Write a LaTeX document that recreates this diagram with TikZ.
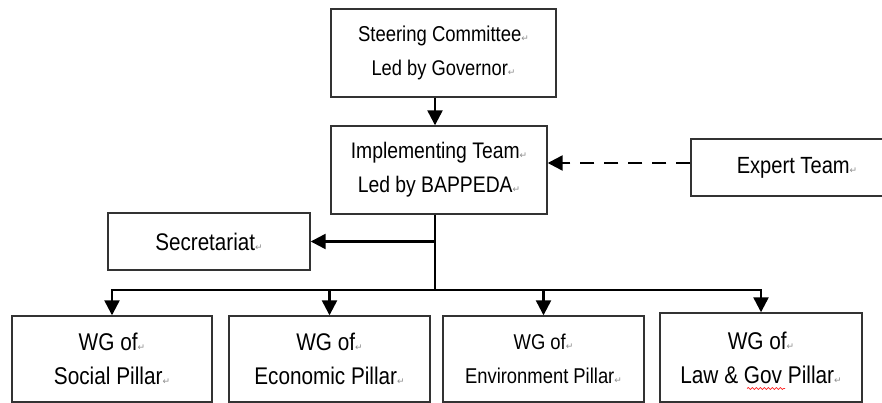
\documentclass[tikz,border=0pt]{standalone}
\usepackage{fontspec}
\setmainfont{Liberation Sans}[FakeStretch=0.86]
\newfontfamily\dejavu{DejaVu Sans}
\usetikzlibrary{arrows.meta,decorations.pathmorphing}
\newcommand{\retmark}{{\dejavu\fontsize{9}{9}\selectfont\color{black!45}↵}}
\tikzset{
  box/.style={draw=black!80, line width=1.4pt, rectangle, inner sep=0pt, align=center, text=black},
  conn/.style={draw=black, line width=2.4pt},
  arr/.style={conn, -{Triangle[length=15pt,width=15pt]}, shorten >=0pt},
  dasharr/.style={arr, dash pattern=on 14pt off 10pt},
  fs/.style={font=\fontsize{#1}{34}\selectfont}
}
\begin{document}
\begin{tikzpicture}[x=1pt,y=-1pt]
\useasboundingbox (0,0) rectangle (882,403);
\clip (0,0) rectangle (882,403);
\node[box, fs=21.5, minimum width=225pt, minimum height=88pt] (steer) at (443.5,53) {\fontsize{21.5}{34}\selectfont Steering Committee\retmark\\\fontsize{21.3}{34}\selectfont Led by Governor\retmark};
\node[box, fs=22.7, minimum width=216pt, minimum height=88pt] (impl) at (439,170) {\fontsize{22.5}{34}\selectfont Implementing Team\retmark\\\fontsize{22.5}{34}\selectfont Led by BAPPEDA\retmark};
\node[box, fs=23.4, minimum width=212pt, minimum height=57pt] (expert) at (797,167.5) {Expert Team\retmark};
\node[box, fs=24, minimum width=202pt, minimum height=57pt] (secr) at (209,241.5) {Secretariat\retmark};
\node[box, fs=24.2, minimum width=200pt, minimum height=86pt] (social) at (112,359) {WG of\retmark\\Social Pillar\retmark};
\node[box, fs=24.1, minimum width=201pt, minimum height=86pt] (econ) at (329.5,359) {WG of\retmark\\Economic Pillar\retmark};
\node[box, fs=21.4, minimum width=201pt, minimum height=86pt] (env) at (543.5,359) {WG of\retmark\\Environment Pillar\retmark};
\node[box, fs=24.2, minimum width=202pt, minimum height=89pt] (law) at (761,357.5) {WG of\retmark\\Law \& Gov Pillar\retmark};
\coordinate (trunk) at (435,290);
% connectors
\draw[arr] (steer.south -| trunk) -- (impl.north -| trunk);
\draw[dasharr] (expert.west |- 0,163) -- (impl.east |- 0,163);
\draw[conn] (impl.south -| trunk) -- (trunk);
\draw[arr] (trunk |- secr.east) -- (secr.east);
\draw[conn] ([xshift=-1.2pt]social.north |- trunk) -- ([xshift=1.2pt]law.north |- trunk);
\draw[arr] (social.north |- trunk) -- (social.north);
\draw[arr] (econ.north |- trunk) -- (econ.north);
\draw[arr] (env.north |- trunk) -- (env.north);
\draw[arr] (law.north |- trunk) -- (law.north);
% spelling squiggle under "Gov"
\draw[red!85, line width=0.7pt, decorate, decoration={snake, amplitude=1pt, segment length=4pt}]
  ([xshift=-14pt,yshift=-31pt]law.center) -- ([xshift=24pt,yshift=-31pt]law.center);
\end{tikzpicture}
\end{document}
